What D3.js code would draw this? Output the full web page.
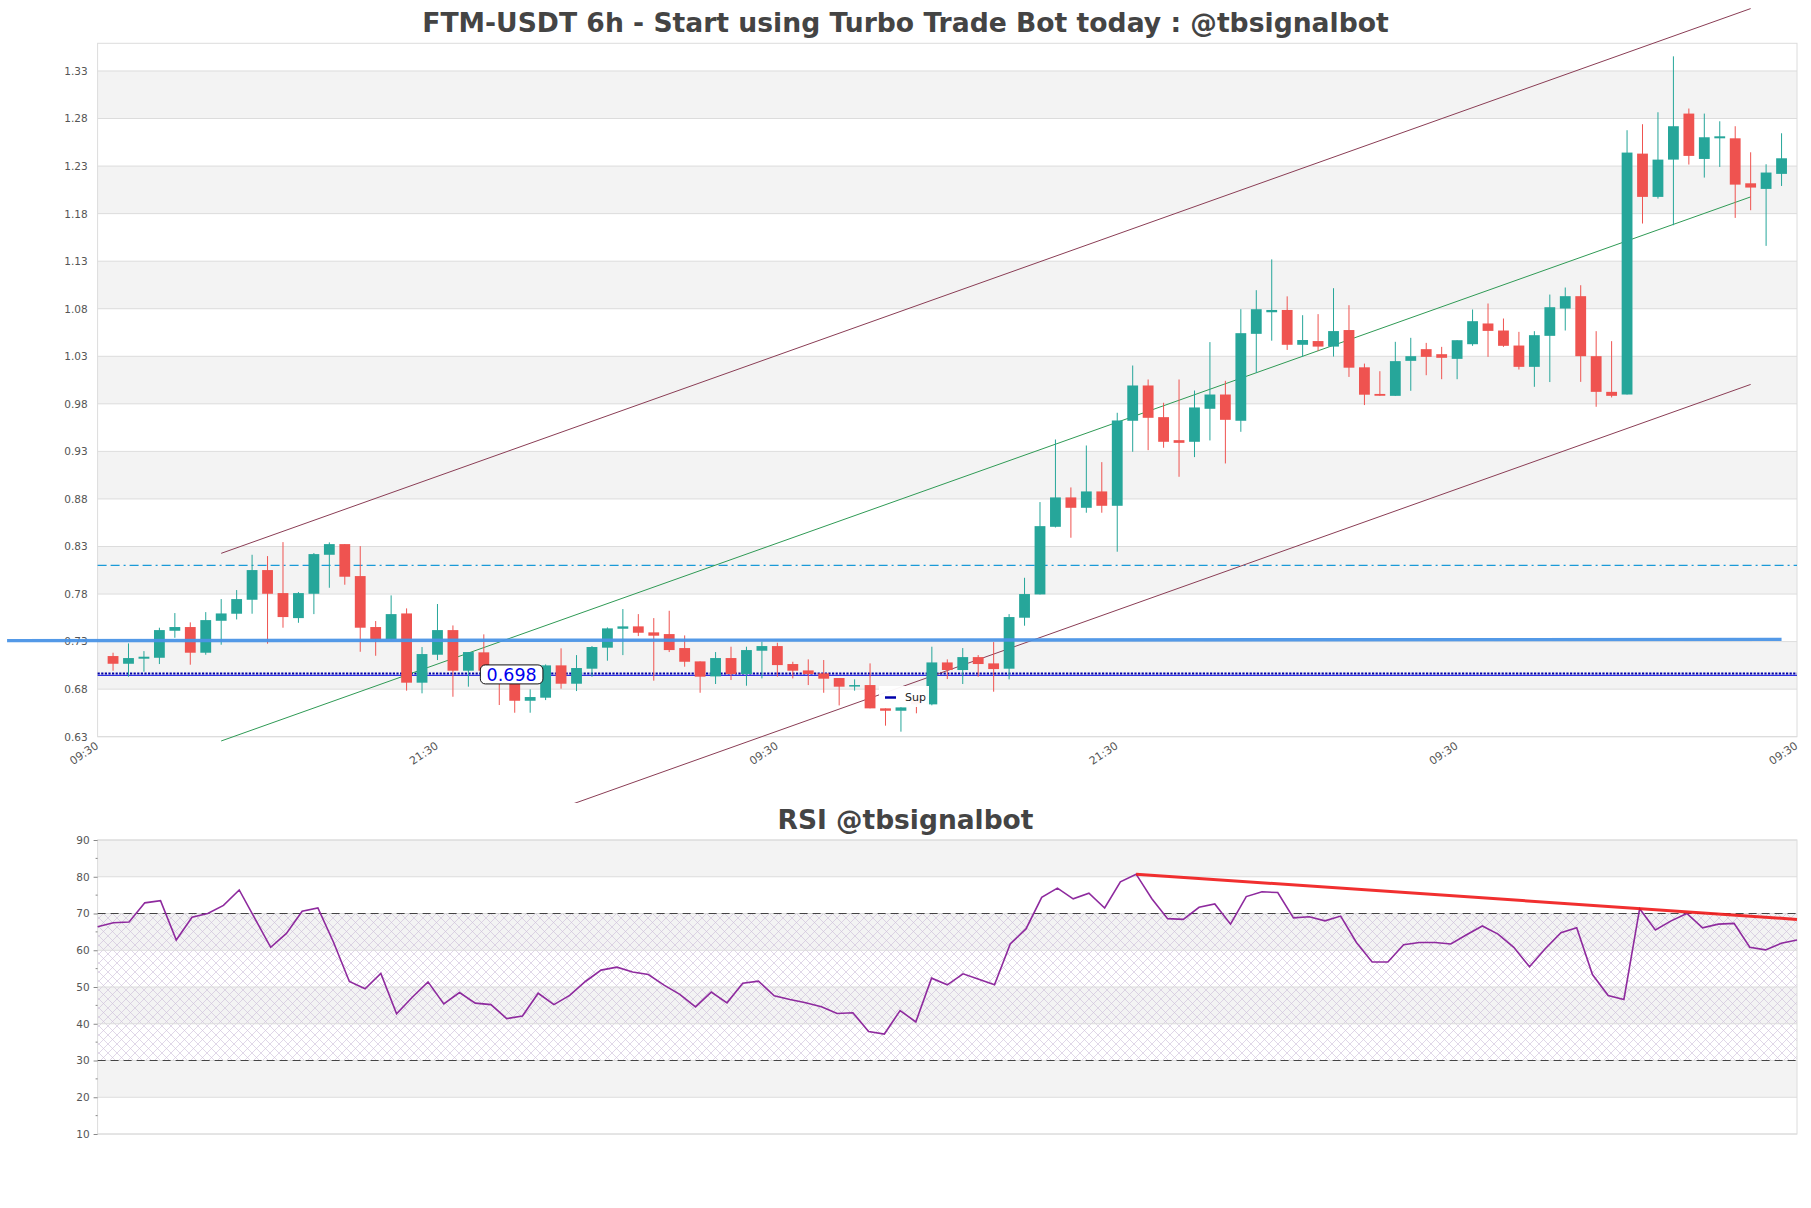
<!DOCTYPE html>
<html><head><meta charset="utf-8">
<script src="https://cdn.jsdelivr.net/npm/d3@7"></script>
<style>
body{margin:0;background:#fff}
svg{display:block}
text{font-family:"DejaVu Sans",sans-serif}
</style>
</head><body>
<svg id="chart" width="1811" height="1208"></svg>
<script>
// ---------- DATA ----------
const opens  = [0.7148,0.7067,0.7120,0.7130,0.7414,0.7453,0.7183,0.7519,0.7593,0.7740,0.8052,0.7810,0.7547,0.7803,0.8213,0.8325,0.7989,0.7453,0.7327,0.7596,
0.6868,0.7162,0.7421,0.6994,0.7187,0.6994,0.6930,0.6678,0.6710,0.7050,0.6857,0.7015,0.7236,0.7435,0.7460,0.7397,0.7379,0.7232,0.7092,0.6934,
0.7127,0.6959,0.7204,0.7253,0.7064,0.6997,0.6966,0.6917,0.6836,0.6843,0.6598,0.6573,0.6700,0.6640,0.7081,0.7001,0.7137,0.7071,0.7015,0.7551,
0.7796,0.8507,0.8816,0.8707,0.8879,0.8728,0.9622,0.9993,0.9660,0.9418,0.9401,0.9748,0.9898,0.9622,1.0536,1.0763,1.0787,1.0421,1.0460,1.0402,
1.0576,1.0184,0.9904,0.9884,1.0252,1.0375,1.0322,1.0273,1.0427,1.0645,1.0571,1.0413,1.0189,1.0515,1.0802,1.0932,1.0301,0.9926,0.9898,1.2431,
1.1976,1.2368,1.2852,1.2375,1.2592,1.2592,1.2119,1.2060,1.2218];
const highs  = [0.7183,0.7281,0.7200,0.7446,0.7600,0.7502,0.7610,0.7747,0.7842,0.8213,0.8199,0.8346,0.7821,0.8231,0.8343,0.8325,0.8304,0.7516,0.7786,0.7649,
0.7243,0.7695,0.7470,0.7190,0.7376,0.7050,0.6980,0.6798,0.7060,0.7229,0.7158,0.7253,0.7449,0.7642,0.7589,0.7547,0.7624,0.7365,0.7092,0.7190,
0.7246,0.7246,0.7299,0.7288,0.7088,0.7113,0.7106,0.6917,0.6903,0.7071,0.6598,0.6610,0.6740,0.7246,0.7113,0.7232,0.7158,0.7295,0.7589,0.7971,
0.8767,0.9425,0.8921,0.9362,0.9187,0.9706,1.0203,1.0056,0.9811,1.0056,0.9940,1.0449,1.0042,1.0795,1.0995,1.1319,1.0930,1.0732,1.0743,1.1016,
1.0837,1.0223,1.0143,1.0452,1.0494,1.0441,1.0399,1.0469,1.0792,1.0855,1.0697,1.0557,1.0564,1.0949,1.1023,1.1047,1.0564,1.0459,1.2677,1.2740,
1.2866,1.3454,1.2905,1.2852,1.2771,1.2719,1.2445,1.2319,1.2645];
const lows   = [0.6994,0.6931,0.6983,0.7064,0.7340,0.7057,0.7162,0.7267,0.7533,0.7593,0.7278,0.7446,0.7498,0.7589,0.7866,0.7898,0.7193,0.7151,0.7320,0.6784,
0.6756,0.7106,0.6720,0.6826,0.6861,0.6633,0.6552,0.6552,0.6685,0.6805,0.6780,0.6931,0.7099,0.7158,0.7358,0.6889,0.7190,0.7036,0.6762,0.6854,
0.6896,0.6836,0.6913,0.6931,0.6913,0.6843,0.6762,0.6629,0.6784,0.6598,0.6416,0.6353,0.6546,0.6630,0.6906,0.6854,0.6931,0.6773,0.6903,0.7467,
0.7796,0.8500,0.8392,0.8655,0.8655,0.8245,0.9296,0.9313,0.9338,0.9033,0.9240,0.9415,0.9173,0.9506,1.0126,1.0464,1.0367,1.0293,1.0355,1.0297,
1.0083,0.9787,0.9885,0.9884,0.9937,1.0101,1.0059,1.0059,1.0410,1.0294,1.0399,1.0161,0.9979,1.0029,1.0571,1.0031,0.9769,0.9867,0.9898,1.1696,
1.1958,1.1678,1.2316,1.2179,1.2291,1.1755,1.1836,1.1461,1.2091];
const closes = [0.7067,0.7127,0.7141,0.7421,0.7453,0.7183,0.7526,0.7596,0.7747,0.8052,0.7803,0.7558,0.7810,0.8220,0.8325,0.7982,0.7446,0.7327,0.7589,0.6868,
0.7169,0.7421,0.6994,0.7190,0.6994,0.6930,0.6678,0.6717,0.7050,0.6857,0.7022,0.7243,0.7439,0.7460,0.7393,0.7362,0.7211,0.7088,0.6931,0.7127,
0.6959,0.7211,0.7253,0.7053,0.6994,0.6959,0.6910,0.6826,0.6843,0.6598,0.6573,0.6608,0.6640,0.7081,0.7001,0.7137,0.7064,0.7011,0.7558,0.7800,
0.8514,0.8816,0.8707,0.8879,0.8728,0.9625,0.9993,0.9653,0.9401,0.9390,0.9762,0.9898,0.9632,1.0543,1.0795,1.0787,1.0421,1.0471,1.0402,1.0565,
1.0180,0.9896,0.9885,1.0249,1.0301,1.0294,1.0284,1.0469,1.0669,1.0567,1.0410,1.0189,1.0522,1.0816,1.0932,1.0301,0.9926,0.9884,1.2442,1.1976,
1.2368,1.2719,1.2407,1.2603,1.2613,1.2105,1.2074,1.2232,1.2382];

const rsiValues = [66.4,67.5,67.7,72.9,73.5,62.8,69.0,70.0,72.2,76.4,68.6,60.8,64.6,70.6,71.5,62.1,51.5,49.5,53.7,42.7,
47.2,51.4,45.4,48.5,45.6,45.2,41.4,42.1,48.3,45.2,47.7,51.5,54.6,55.4,54.1,53.4,50.5,48.0,44.6,48.6,
45.7,51.0,51.6,47.6,46.6,45.7,44.6,42.8,43.0,37.9,37.2,43.6,40.5,52.4,50.6,53.6,52.1,50.6,61.7,65.8,
74.4,76.9,74.0,75.5,71.5,78.6,80.7,74.0,68.6,68.4,71.7,72.6,67.1,74.6,75.9,75.7,68.8,69.1,68.0,69.3,
62.1,56.8,56.8,61.5,62.1,62.1,61.7,64.2,66.6,64.4,60.8,55.5,60.4,64.8,66.1,53.4,47.7,46.6,71.3,65.5,
68.0,70.0,66.1,67.1,67.3,60.8,60.1,61.9,62.8];

const priceTicks = [0.63,0.68,0.73,0.78,0.83,0.88,0.93,0.98,1.03,1.08,1.13,1.18,1.23,1.28,1.33];
const timeTickIdx = [-1,21,43,65,87,109];
const timeTickLabels = ["09:30","21:30","09:30","21:30","09:30","09:30"];
const rsiTicks = [10,20,30,40,50,60,70,80,90];

const channelUpper = [{i:7,v:0.8228},{i:106,v:1.3956}];
const channelMid   = [{i:7,v:0.6255},{i:106,v:1.1976}];
const channelLower = [{i:7,v:0.4276},{i:106,v:1.0004}];
const blueTrend    = [{i:-6.86,v:0.7310},{i:108,v:0.7323}];
const resistanceLevel = 0.8102;
const supportLevel = 0.6955;
const supportLabel = "0.698";
const supportLabelIdx = 25.8;
const rsiTrend = [{i:66,v:80.7},{i:108,v:68.4}];
const rsiBounds = [30,70];

// ---------- LAYOUT ----------
const W = 1811;
const main = {left:97.6, right:1797, top:43.3, bottom:736.7};
const rsiP = {left:97.6, right:1797, top:840, bottom:1134};
const svg = d3.select("#chart");
const defs = svg.append("defs");

const x = d3.scaleLinear().domain([-1,109]).range([main.left, main.right]);
const y = d3.scaleLinear().domain([0.63, 1.3591]).range([main.bottom, main.top]);
const xr = d3.scaleLinear().domain([0,108]).range([rsiP.left, rsiP.right]);
const yr = d3.scaleLinear().domain([10,90]).range([rsiP.bottom, rsiP.top]);

// title
const t1 = svg.append("text").attr("x", W/2).attr("y", 32.3).attr("text-anchor","middle")
  .attr("font-weight","bold").attr("font-size",26).attr("fill","#444")
  .text("FTM-USDT 6h - Start using Turbo Trade Bot today : @tbsignalbot");
function fitW(sel, target){ const w = sel.node().getComputedTextLength(); const fs = +sel.attr("font-size"); sel.attr("font-size", fs*target/w); }
fitW(t1, 967);

// main plot background bands
const gMain = svg.append("g");
for (let k=1;k+1<priceTicks.length;k+=2){
  gMain.append("rect").attr("x",main.left).attr("width",main.right-main.left)
    .attr("y",y(priceTicks[k+1])).attr("height",y(priceTicks[k])-y(priceTicks[k+1]))
    .attr("fill","#f3f3f3");
}
gMain.selectAll("line.grid").data(priceTicks).join("line").attr("class","grid")
  .attr("x1",main.left).attr("x2",main.right).attr("y1",d=>y(d)).attr("y2",d=>y(d))
  .attr("stroke","#dcdcdc").attr("stroke-width",1);
gMain.append("rect").attr("x",main.left).attr("y",main.top).attr("width",main.right-main.left)
  .attr("height",main.bottom-main.top).attr("fill","none").attr("stroke","#dcdcdc");

// y axis
const yAxis = d3.axisLeft(y).tickValues(priceTicks).tickSize(0).tickPadding(10).tickFormat(d3.format(".2f"));
const gy = svg.append("g").attr("transform",`translate(${main.left},0)`).call(yAxis);
gy.select(".domain").remove();
gy.selectAll("text").attr("font-size",10.5).attr("fill","#555").style("font-family","DejaVu Sans");

// x axis labels
const gx = svg.append("g");
timeTickIdx.forEach((d,k)=>{
  gx.append("text").attr("transform",`translate(${x(d)-3},${main.bottom+4}) rotate(-34)`)
    .attr("text-anchor","end").attr("dy","0.75em").attr("font-size",11).attr("fill","#555")
    .text(timeTickLabels[k]);
});

// clip for overlays
defs.append("clipPath").attr("id","mainclip").append("rect").attr("x",0).attr("y",0).attr("width",W).attr("height",803);
const gOver = svg.append("g").attr("clip-path","url(#mainclip)");
const line = d3.line().x(d=>x(d.i)).y(d=>y(d.v));

// resistance dashed
gOver.append("line").attr("x1",main.left).attr("x2",main.right)
  .attr("y1",y(resistanceLevel)).attr("y2",y(resistanceLevel))
  .attr("stroke","#1a9ad8").attr("stroke-width",1.3).attr("stroke-dasharray","9,4,9,4,2,4");

// support dotted
gOver.append("line").attr("x1",main.left).attr("x2",main.right)
  .attr("y1",y(supportLevel)+1).attr("y2",y(supportLevel)+1)
  .attr("stroke","#3030e0").attr("stroke-width",1.4);
gOver.append("line").attr("x1",main.left).attr("x2",main.right)
  .attr("y1",y(supportLevel)-0.9).attr("y2",y(supportLevel)-0.9)
  .attr("stroke","#0000a8").attr("stroke-width",2.2).attr("stroke-dasharray","2.2,1.4");

// channel
gOver.append("path").datum(channelUpper).attr("d",line).attr("fill","none").attr("stroke","#8a3d55").attr("stroke-width",1);
gOver.append("path").datum(channelLower).attr("d",line).attr("fill","none").attr("stroke","#8a3d55").attr("stroke-width",1);
gOver.append("path").datum(channelMid).attr("d",line).attr("fill","none").attr("stroke","#2f9a55").attr("stroke-width",1);

// candles
const candles = d3.range(opens.length).map(i=>({i,o:opens[i],h:highs[i],l:lows[i],c:closes[i]}));
const up = "#26a69a", dn = "#ef5350";
const bw = (x(1)-x(0))*0.7;
const gC = svg.append("g");
gC.selectAll("line.wick").data(candles).join("line").attr("class","wick")
  .attr("x1",d=>x(d.i)).attr("x2",d=>x(d.i)).attr("y1",d=>y(d.h)).attr("y2",d=>y(d.l))
  .attr("stroke",d=>d.c>=d.o?up:dn).attr("stroke-width",1);
gC.selectAll("rect.body").data(candles).join("rect").attr("class","body")
  .attr("x",d=>x(d.i)-bw/2).attr("width",bw)
  .attr("y",d=>y(Math.max(d.o,d.c))).attr("height",d=>Math.max(1.5,Math.abs(y(d.o)-y(d.c))))
  .attr("fill",d=>d.c>=d.o?up:dn);

// blue thick trend
svg.append("path").datum(blueTrend).attr("d",line).attr("fill","none")
  .attr("stroke","#4a93e6").attr("stroke-width",3.4).attr("opacity",0.95);

// support label
const lg = svg.append("g").attr("transform",`translate(${x(supportLabelIdx)},${y(supportLevel)})`);
lg.append("rect").attr("x",-31.3).attr("y",-9.5).attr("width",62.6).attr("height",19).attr("rx",5)
  .attr("fill","#fff").attr("stroke","#111").attr("stroke-width",1);
lg.append("text").attr("text-anchor","middle").attr("dy","0.36em").attr("font-size",17.5).attr("fill","#0000ee").text(supportLabel);

// legend
const leg = svg.append("g").attr("transform","translate(879,686)");
leg.append("rect").attr("width",50).attr("height",21).attr("fill","#fff").attr("opacity",0.95);
leg.append("line").attr("x1",6).attr("x2",17).attr("y1",11.5).attr("y2",11.5).attr("stroke","#0000aa").attr("stroke-width",2.5);
leg.append("text").attr("x",26).attr("y",15).attr("font-size",11).attr("fill","#222").text("Sup");

// ---------- RSI ----------
const t2 = svg.append("text").attr("x", W/2).attr("y", 829.3).attr("text-anchor","middle")
  .attr("font-weight","bold").attr("font-size",24).attr("fill","#444").text("RSI @tbsignalbot");
fitW(t2, 256);

const gR = svg.append("g");
for (let k=1;k+1<rsiTicks.length;k+=2){
  gR.append("rect").attr("x",rsiP.left).attr("width",rsiP.right-rsiP.left)
    .attr("y",yr(rsiTicks[k+1])).attr("height",yr(rsiTicks[k])-yr(rsiTicks[k+1])).attr("fill","#f3f3f3");
}
const pat = defs.append("pattern").attr("id","hatch").attr("patternUnits","userSpaceOnUse").attr("width",9).attr("height",9);
pat.append("path").attr("d","M0,0L9,9M9,0L0,9").attr("stroke","#c8b6d6").attr("stroke-width",0.65).attr("fill","none");
gR.append("rect").attr("x",rsiP.left).attr("width",rsiP.right-rsiP.left)
  .attr("y",yr(rsiBounds[1])).attr("height",yr(rsiBounds[0])-yr(rsiBounds[1])).attr("fill","url(#hatch)").attr("opacity",0.85);
gR.selectAll("line.grid").data(rsiTicks).join("line").attr("class","grid")
  .attr("x1",rsiP.left).attr("x2",rsiP.right).attr("y1",d=>yr(d)).attr("y2",d=>yr(d))
  .attr("stroke","#dcdcdc");
gR.append("rect").attr("x",rsiP.left).attr("y",rsiP.top).attr("width",rsiP.right-rsiP.left)
  .attr("height",rsiP.bottom-rsiP.top).attr("fill","none").attr("stroke","#dcdcdc");
gR.selectAll("line.bound").data(rsiBounds).join("line").attr("class","bound")
  .attr("x1",rsiP.left).attr("x2",rsiP.right).attr("y1",d=>yr(d)).attr("y2",d=>yr(d))
  .attr("stroke","#444").attr("stroke-width",1.2).attr("stroke-dasharray","8,5");

const ryAxis = d3.axisLeft(yr).tickValues(rsiTicks).tickSize(4).tickPadding(4);
const gry = svg.append("g").attr("transform",`translate(${rsiP.left},0)`).call(ryAxis);
gry.select(".domain").remove();
gry.selectAll("line").attr("stroke","#888");
gry.selectAll("text").attr("font-size",10.5).attr("fill","#555").style("font-family","DejaVu Sans");
const minor = d3.range(15,90,10);
svg.append("g").selectAll("line").data(minor).join("line")
  .attr("x1",rsiP.left-2).attr("x2",rsiP.left).attr("y1",d=>yr(d)).attr("y2",d=>yr(d)).attr("stroke","#888");

const rline = d3.line().x((d,i)=>xr(i)).y(d=>yr(d));
svg.append("path").datum(rsiValues).attr("d",rline).attr("fill","none")
  .attr("stroke","#8e2a9e").attr("stroke-width",1.6);
svg.append("path").datum(rsiTrend).attr("d",d3.line().x(d=>xr(d.i)).y(d=>yr(d.v))).attr("fill","none")
  .attr("stroke","#f01818").attr("stroke-width",3).attr("opacity",0.9);
</script>
</body></html>
